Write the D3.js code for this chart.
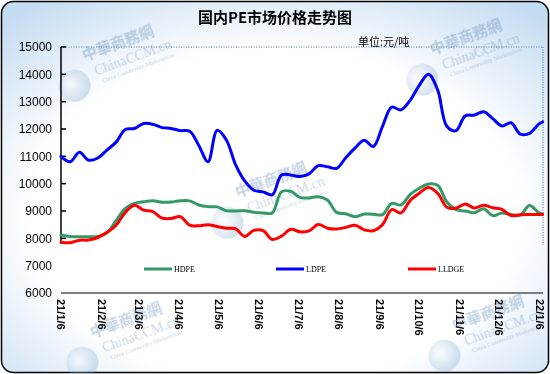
<!DOCTYPE html>
<html>
<head>
<meta charset="utf-8">
<script src="https://cdn.jsdelivr.net/npm/d3@7"></script>
<style>
body{margin:0;background:#fff;}
svg{display:block;}
</style>
</head>
<body>
<svg></svg>
<script>
const width = 550;
const height = 374;

// weekly dates, from 2021-01-06
const startDate = new Date(2021, 0, 6);
const weeks = 53;
const dates = d3.range(weeks).map(k => d3.timeDay.offset(startDate, 7*k)).concat([new Date(2022, 0, 8)]);

const ldpe = [11000,10800,11150,10860,10940,11230,11520,11980,12020,12200,
	12170,12050,12020,11940,11920,11400,10800,11950,11600,10700,
	10100,9760,9700,9590,10320,10320,10260,10360,10660,10620,
	10560,10950,11300,11590,11360,12100,12800,12700,13050,13600,
	14000,13430,12100,11940,12480,12510,12630,12380,12110,12230,
	11810,11840,12180,12260];
const hdpe = [8120,8070,8060,8060,8070,8200,8650,9100,9280,9340,
	9375,9320,9330,9375,9370,9220,9160,9150,9010,9000,
	9010,8950,8930,8930,9700,9720,9500,9480,9520,9400,
	8950,8900,8790,8890,8880,8870,9280,9220,9600,9830,
	9990,9940,9330,9050,9000,8940,9080,8830,8930,8870,
	8850,9200,8940,8880];
const lldpe = [7860,7840,7930,7940,8030,8220,8480,8950,9210,9030,
	8980,8740,8730,8790,8480,8460,8500,8430,8370,8350,
	8070,8290,8280,7960,8080,8330,8240,8270,8510,8370,
	8340,8400,8480,8310,8280,8500,9050,8930,9380,9650,
	9860,9650,9140,9100,9260,9110,9210,9120,9060,8830,
	8860,8870,8870,8870];

const seriesNames = ['HDPE', 'LDPE', 'LLDGE'];
const seriesColors = ['#339966', '#0000ff', '#ff0000'];
const seriesValues = [hdpe, ldpe, lldpe];

const yTicks = [6000,7000,8000,9000,10000,11000,12000,13000,14000,15000];
const xTickDates = d3.range(13).map(m => new Date(2021, m, 6));
const xTickLabels = ['21/1/6','21/2/6','21/3/6','21/4/6','21/5/6','21/6/6','21/7/6',
	'21/8/6','21/9/6','21/10/6','21/11/6','21/12/6','22/1/6'];

const title = '国内PE市场价格走势图';
const unitText = '单位:元/吨';

const svg = d3.select('svg').attr('width', width).attr('height', height);

// background
const defs = svg.append('defs');
const grad = defs.append('radialGradient').attr('id', 'bg')
	.attr('cx', '50%').attr('cy', '58%').attr('r', '72%');
grad.append('stop').attr('offset', '0').attr('stop-color', '#ffffff');
grad.append('stop').attr('offset', '0.62').attr('stop-color', '#ffffff');
grad.append('stop').attr('offset', '1').attr('stop-color', '#c4dcf2');
const globe = defs.append('radialGradient').attr('id', 'globe')
	.attr('cx', '40%').attr('cy', '40%').attr('r', '60%');
globe.append('stop').attr('offset', '0').attr('stop-color', '#ffffff');
globe.append('stop').attr('offset', '1').attr('stop-color', '#6f9cc9');

svg.append('rect')
	.attr('x', 1.5).attr('y', 1.5)
	.attr('width', width-3).attr('height', height-3)
	.attr('rx', 12).attr('ry', 12)
	.style('fill', 'url(#bg)')
	.style('stroke', '#000').style('stroke-width', 1.5);

// watermarks
const marks = [[92,58],[440,52],[245,195],[100,335],[462,328]];
const wm = svg.append('g').style('opacity', 0.3);
marks.forEach(p => {
	var g = wm.append('g').attr('transform', 'translate('+p[0]+','+p[1]+') rotate(-20)');
	g.append('circle').attr('cx', -26).attr('cy', 20).attr('r', 16)
		.style('fill', 'url(#globe)');
	g.append('text').attr('x', -8).attr('y', 0)
		.style('font-family', '"Noto Sans CJK TC"').style('font-size', '15px').style('font-weight', 'bold')
		.style('fill', '#3f6ea5').text('中華商務網');
	g.append('text').attr('x', -2).attr('y', 18)
		.style('font-family', '"Liberation Serif"').style('font-size', '14px')
		.style('fill', '#4a78aa').text('ChinaCCM.cn');
	g.append('text').attr('x', 2).attr('y', 27)
		.style('font-family', '"Liberation Serif"').style('font-size', '6px')
		.style('fill', '#4a78aa').text('China Commodity Marketplace');
});

const x = d3.scaleTime()
	.domain([new Date(2021, 0, 6), new Date(2022, 0, 6)])
	.range([61, 540]);
const y = d3.scaleLinear().domain([6000, 15000]).range([293, 47]);

const plotRight = 543;
const plotBottom = 245;

// plot border (dotted top / right)
svg.append('line')
	.attr('x1', 61).attr('x2', plotRight).attr('y1', y(15000)).attr('y2', y(15000))
	.style('stroke', '#6080a8').style('stroke-dasharray', '1,1.5');
svg.append('line')
	.attr('x1', plotRight).attr('x2', plotRight).attr('y1', y(15000)).attr('y2', plotBottom)
	.style('stroke', '#3a7ad8').style('stroke-dasharray', '1,1.5');

// y axis
svg.append('line')
	.attr('x1', 61).attr('x2', 61).attr('y1', y(15000)).attr('y2', y(7800))
	.style('stroke', '#000').style('stroke-width', 1.5);
svg.selectAll('line.ytick')
	.data(yTicks.filter(d => d >= 8000))
	.enter().append('line').classed('ytick', true)
	.attr('x1', 61).attr('x2', 66)
	.attr('y1', d => y(d)).attr('y2', d => y(d))
	.style('stroke', '#000').style('stroke-width', 1.5);
svg.selectAll('text.ytick')
	.data(yTicks)
	.enter().append('text').classed('ytick', true)
	.attr('x', 52).attr('y', d => y(d))
	.attr('dy', '0.36em')
	.attr('text-anchor', 'end')
	.style('font-family', '"Liberation Sans", Arial')
	.style('font-size', '12px')
	.style('fill', '#000')
	.text(d => d);

// x axis
svg.append('line')
	.attr('x1', 61).attr('x2', plotRight).attr('y1', y(6000)).attr('y2', y(6000))
	.style('stroke', '#000').style('stroke-width', 1);
svg.selectAll('text.xtick')
	.data(xTickDates)
	.enter().append('text').classed('xtick', true)
	.attr('transform', d => 'translate('+x(d)+',299) rotate(90)')
	.attr('dy', '0.35em')
	.attr('text-anchor', 'start')
	.style('font-family', '"Liberation Sans", Arial')
	.style('font-size', '11px')
	.style('font-weight', 'bold')
	.style('fill', '#000')
	.text((d, i) => xTickLabels[i]);

// lines
const line = d3.line()
	.x((d, i) => x(dates[i]))
	.y(d => y(d))
	.curve(d3.curveCatmullRom.alpha(0.5));

svg.selectAll('path.series')
	.data(seriesValues)
	.enter().append('path').classed('series', true)
	.attr('d', d => line(d))
	.style('fill', 'none')
	.style('stroke', (d, i) => seriesColors[i])
	.style('stroke-width', 3)
	.style('stroke-linejoin', 'round')
	.style('stroke-linecap', 'round');

// legend
const legendX = [144, 276, 408];
const legend = svg.selectAll('g.legend')
	.data(seriesNames)
	.enter().append('g').classed('legend', true)
	.attr('transform', (d, i) => 'translate('+legendX[i]+',269)');
legend.append('line')
	.attr('x1', 0).attr('x2', 28).attr('y1', 0).attr('y2', 0)
	.style('stroke', (d, i) => seriesColors[i])
	.style('stroke-width', 3);
legend.append('text')
	.attr('x', 30).attr('y', 0).attr('dy', '0.35em')
	.style('font-family', '"Liberation Serif"')
	.style('font-size', '8px')
	.style('fill', '#000')
	.text(d => d);

// titles
svg.append('text')
	.attr('x', 275).attr('y', 23)
	.attr('text-anchor', 'middle')
	.style('font-family', '"Noto Sans CJK SC"')
	.style('font-size', '15px')
	.style('font-weight', 'bold')
	.style('fill', '#000')
	.text(title);
svg.append('text')
	.attr('x', 358).attr('y', 46)
	.style('font-family', '"Noto Sans CJK SC"')
	.style('font-size', '11px')
	.style('fill', '#000')
	.text(unitText);
</script>
</body>
</html>
